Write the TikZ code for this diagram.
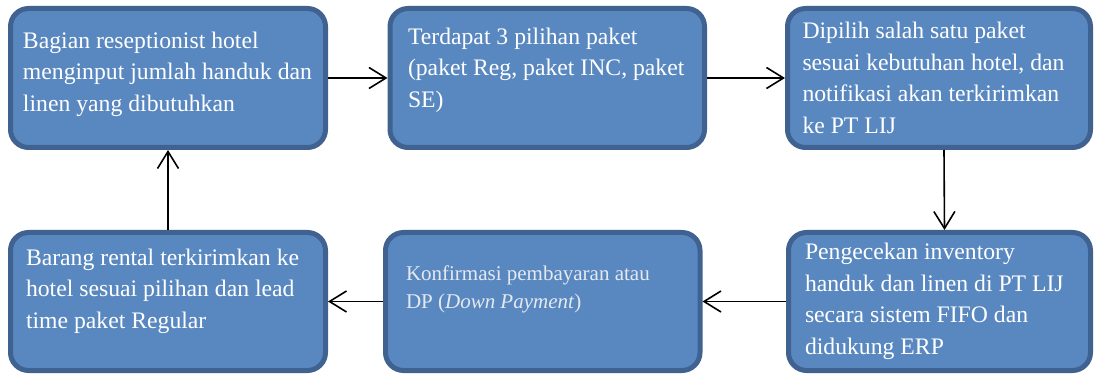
\documentclass[tikz,border=0pt]{standalone}
\usepackage{fontspec}
\setmainfont{Liberation Serif}
\usetikzlibrary{arrows.meta}

\definecolor{boxfill}{RGB}{89,136,192}
\definecolor{boxline}{RGB}{63,98,145}

\begin{document}
\begin{tikzpicture}[->,>={Straight Barb[length=17pt,width=21pt]},line width=1.6pt,
	x=1pt,y=-1pt]
	\tikzstyle{stage}=[rounded corners=18pt,fill=boxfill,draw=boxline,line width=5pt,
		text=white,align=flush left,inner xsep=15pt,inner ysep=0pt,minimum height=139pt,
		font=\fontsize{23.7}{31.5}\selectfont]
	
	\useasboundingbox (0,0) rectangle (1096,374);
	
	\node[stage,text width=290pt,inner xsep=12.5pt] (input) at (168,78)
		{Bagian reseptionist hotel\\menginput jumlah handuk dan\\linen yang dibutuhkan\rule[-13pt]{0pt}{0pt}};
	\node[stage,text width=278.5pt,inner xsep=18pt] (paket) at (547.25,78)
		{Terdapat 3 pilihan paket\\(paket Reg, paket INC, paket\\SE)\rule[-21pt]{0pt}{0pt}};
	\node[stage,text width=273pt] (pilih) at (939,78)
		{Dipilih salah satu paket\\sesuai kebutuhan hotel, dan\\notifikasi akan terkirimkan\\ke PT LIJ};
	\node[stage,text width=269pt,inner xsep=16.5pt,minimum height=138pt] (cek) at (939.5,301.5)
		{Pengecekan inventory\\handuk dan linen di PT LIJ\\secara sistem FIFO dan\\didukung ERP};
	\node[stage,text width=273.5pt,inner xsep=20.5pt,minimum height=138pt,text={rgb,255:red,228;green,233;blue,240},
		font=\fontsize{21}{28.3}\selectfont] (bayar) at (542.75,301.5)
		{Konfirmasi pembayaran atau\\DP (\textit{Down Payment})\rule[-29pt]{0pt}{0pt}};
	\node[stage,text width=284pt,inner xsep=15.5pt,minimum height=138pt] (kirim) at (168,301.5)
		{Barang rental terkirimkan ke\\hotel sesuai pilihan dan lead\\time paket Regular\rule[-26pt]{0pt}{0pt}};
	
	\path (input) edge (paket);
	\path (paket) edge (pilih);
	\path ([xshift=5pt]pilih.south) edge ([xshift=5pt]cek.north);
	\path (cek) edge (bayar);
	\path (bayar) edge (kirim);
	\path (kirim) edge (input);
\end{tikzpicture}
\end{document}
